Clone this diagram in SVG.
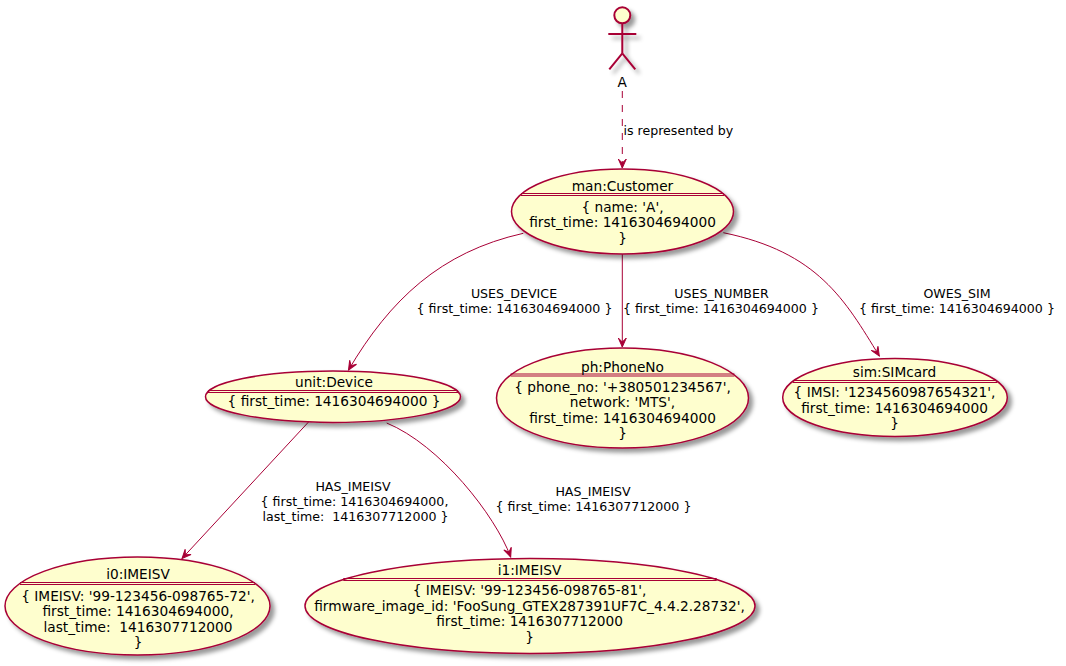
<svg xmlns="http://www.w3.org/2000/svg" width="1066" height="666" viewBox="0 0 1066 666">
<style>
  .node ellipse { fill: #FEFECE; stroke: #A80036; stroke-width: 1.5; }
  .sep { stroke: #A80036; stroke-width: 1; }
  .nt { font-family: "DejaVu Sans", "Liberation Sans", sans-serif; font-size: 13.7px; fill: #000000; text-anchor: middle; white-space: pre; }
  .lt { font-family: "DejaVu Sans", "Liberation Sans", sans-serif; font-size: 12.6px; fill: #000000; text-anchor: middle; white-space: pre; }
  .edge { fill: none; stroke: #A80036; stroke-width: 1; }
</style>
<defs>
  <filter id="sh" x="-20%" y="-20%" width="150%" height="160%">
    <feGaussianBlur in="SourceAlpha" stdDeviation="2" result="b"/>
    <feColorMatrix in="b" type="matrix" values="0 0 0 0 0  0 0 0 0 0  0 0 0 0 0  0 0 0 0.4 0" result="c"/>
    <feOffset in="c" dx="4" dy="4" result="o"/>
    <feMerge><feMergeNode in="o"/><feMergeNode in="SourceGraphic"/></feMerge>
  </filter>
  <marker id="ah" viewBox="-10 -5 11 10" markerWidth="11" markerHeight="10" refX="0" refY="0" orient="auto" markerUnits="userSpaceOnUse">
    <path d="M0,0 L-9,-4 L-5,0 L-9,4 Z" fill="#A80036" stroke="#A80036" stroke-width="1" stroke-dasharray="none"/>
  </marker>
</defs>
<rect width="1066" height="666" fill="#FFFFFF"/>

<g id="connectors">
  <path class="edge" d="M622.3,91 L622.3,168" stroke-dasharray="7,7" marker-end="url(#ah)"/>
  <text class="lt" x="623.5" y="135" style="text-anchor:start">is represented by</text>

  <path class="edge" d="M523.3,233.3 C440,252 390,300 348.5,370" marker-end="url(#ah)"/>
  <text class="lt" x="514" y="298">USES_DEVICE</text>
  <text class="lt" x="514.5" y="313">{ first_time: 1416304694000 }</text>

  <path class="edge" d="M622.3,254 L622.3,347" marker-end="url(#ah)"/>
  <text class="lt" x="721.5" y="297.5">USES_NUMBER</text>
  <text class="lt" x="721" y="312.5">{ first_time: 1416304694000 }</text>

  <path class="edge" d="M723.3,232.7 C818,252 845,300 879.3,356" marker-end="url(#ah)"/>
  <text class="lt" x="957" y="297.5">OWES_SIM</text>
  <text class="lt" x="957" y="312.5">{ first_time: 1416304694000 }</text>

  <path class="edge" d="M308.5,422 L182,558.5" marker-end="url(#ah)"/>
  <text class="lt" x="353" y="491">HAS_IMEISV</text>
  <text class="lt" x="354.5" y="506">{ first_time: 1416304694000,</text>
  <text class="lt" x="355.5" y="520.7">last_time:  1416307712000 }</text>

  <path class="edge" d="M386.7,423 C440,445 495,515 510.7,557" marker-end="url(#ah)"/>
  <text class="lt" x="593" y="495.5">HAS_IMEISV</text>
  <text class="lt" x="593.5" y="510.7">{ first_time: 1416307712000 }</text>
</g>

<g id="actor-A">
  <g filter="url(#sh)" stroke="#A80036" stroke-width="2" fill="none">
    <circle cx="622.3" cy="15.3" r="8" fill="#FEFECE"/>
    <line x1="622.3" y1="23.3" x2="622.3" y2="53.3"/>
    <line x1="608.3" y1="34" x2="636.3" y2="34"/>
    <line x1="622.3" y1="53.3" x2="609.3" y2="69.3"/>
    <line x1="622.3" y1="53.3" x2="635.3" y2="69.3"/>
  </g>
  <text class="nt" x="622.3" y="87.3">A</text>
</g>

<g id="node-customer" class="node">
  <ellipse cx="622.5" cy="211.5" rx="111" ry="42.5" filter="url(#sh)"/>
  <line class="sep" x1="521" y1="193.5" x2="724" y2="193.5"/>
  <line class="sep" x1="521" y1="195.5" x2="724" y2="195.5"/>
  <text class="nt" x="622.5" y="191">man:Customer</text>
  <text class="nt" x="622.5" y="211.5">{ name: 'A',</text>
  <text class="nt" x="622.5" y="227">first_time: 1416304694000</text>
  <text class="nt" x="622.5" y="242.5">}</text>
</g>

<g id="node-device" class="node">
  <ellipse cx="333" cy="396.7" rx="127.5" ry="25.7" filter="url(#sh)"/>
  <line class="sep" x1="208" y1="390.5" x2="458" y2="390.5"/>
  <line class="sep" x1="208" y1="392.5" x2="458" y2="392.5"/>
  <text class="nt" x="334" y="386.5">unit:Device</text>
  <text class="nt" x="334" y="405.5">{ first_time: 1416304694000 }</text>
</g>

<g id="node-phone" class="node">
  <ellipse cx="622.5" cy="398" rx="126" ry="50" filter="url(#sh)"/>
  <line class="sep" x1="510.6" y1="374" x2="734.4" y2="374"/>
  <line class="sep" x1="510.6" y1="376" x2="734.4" y2="376"/>
  <text class="nt" x="622.5" y="371.5">ph:PhoneNo</text>
  <text class="nt" x="622.5" y="391.5">{ phone_no: '+380501234567',</text>
  <text class="nt" x="622.5" y="407">network: 'MTS',</text>
  <text class="nt" x="622.5" y="422.5">first_time: 1416304694000</text>
  <text class="nt" x="622.5" y="438">}</text>
</g>

<g id="node-sim" class="node">
  <ellipse cx="895" cy="397.5" rx="112.3" ry="39" filter="url(#sh)"/>
  <line class="sep" x1="793" y1="380.5" x2="997" y2="380.5"/>
  <line class="sep" x1="793" y1="382.5" x2="997" y2="382.5"/>
  <text class="nt" x="894.5" y="377">sim:SIMcard</text>
  <text class="nt" x="894.5" y="397">{ IMSI: '1234560987654321',</text>
  <text class="nt" x="894.5" y="412.5">first_time: 1416304694000</text>
  <text class="nt" x="894.5" y="428">}</text>
</g>

<g id="node-i0" class="node">
  <ellipse cx="137.5" cy="606" rx="132.5" ry="49" filter="url(#sh)"/>
  <line class="sep" x1="20" y1="582.5" x2="255" y2="582.5"/>
  <line class="sep" x1="20" y1="584.5" x2="255" y2="584.5"/>
  <text class="nt" x="138" y="578.5">i0:IMEISV</text>
  <text class="nt" x="138" y="600.5">{ IMEISV: '99-123456-098765-72',</text>
  <text class="nt" x="138" y="616">first_time: 1416304694000,</text>
  <text class="nt" x="138" y="631.5">last_time:  1416307712000</text>
  <text class="nt" x="138" y="647">}</text>
</g>

<g id="node-i1" class="node">
  <ellipse cx="530" cy="606" rx="225" ry="47.5" filter="url(#sh)"/>
  <line class="sep" x1="343.3" y1="578.5" x2="716.7" y2="578.5"/>
  <line class="sep" x1="343.3" y1="580.5" x2="716.7" y2="580.5"/>
  <text class="nt" x="529.5" y="575">i1:IMEISV</text>
  <text class="nt" x="529.5" y="595">{ IMEISV: '99-123456-098765-81',</text>
  <text class="nt" x="529.5" y="610.5">firmware_image_id: 'FooSung_GTEX287391UF7C_4.4.2.28732',</text>
  <text class="nt" x="529.5" y="626">first_time: 1416307712000</text>
  <text class="nt" x="529.5" y="641.5">}</text>
</g>
</svg>
